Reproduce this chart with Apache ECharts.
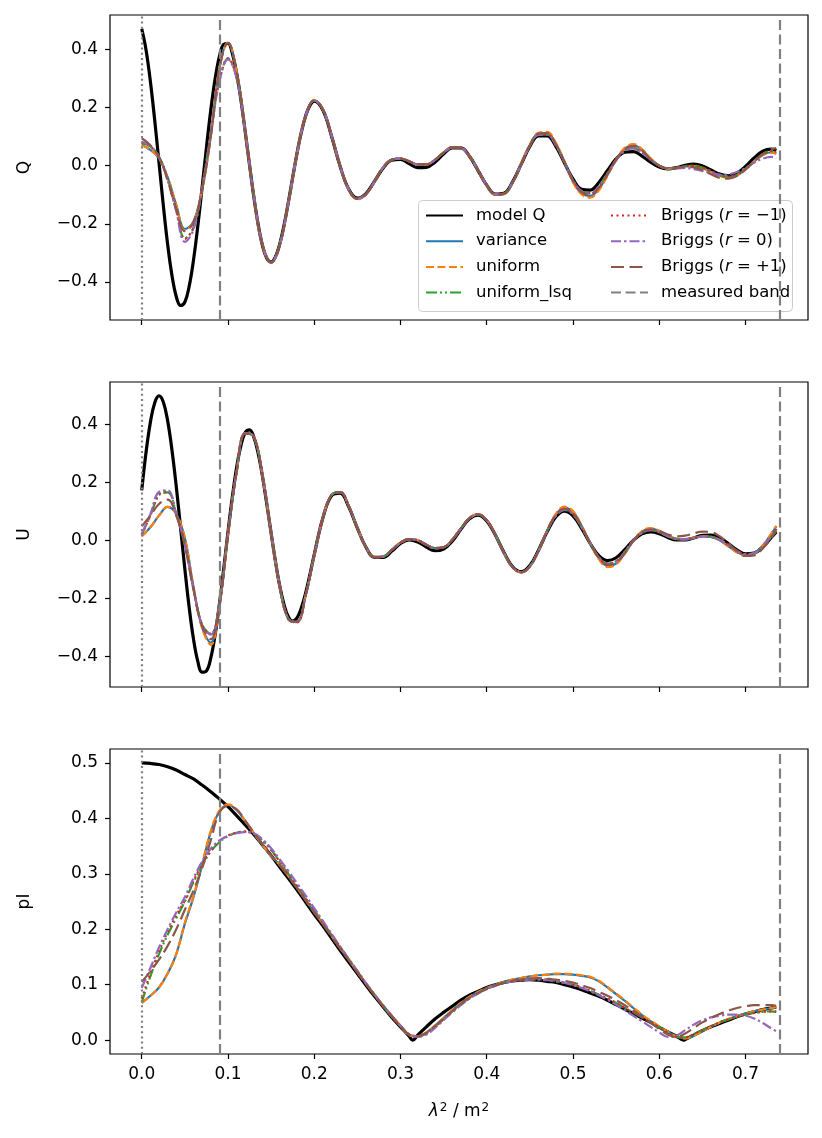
<!DOCTYPE html>
<html>
<head>
<meta charset="utf-8">
<title>Q, U and pI reconstructions</title>
<script src="https://cdn.jsdelivr.net/npm/echarts@6.0.0/dist/echarts.min.js"></script>
<style>
html, body { margin: 0; padding: 0; background: #fff; }
#chart { width: 822px; height: 1138px; }
</style>
</head>
<body>
<div id="chart"></div>
<script>
// lambda^2 sample points (m^2); the last one is the top of the measured band
var lam2 = [0.00,0.01,0.02,0.03,0.04,0.05,0.06,0.07,0.08,0.09,0.10,0.11,0.12,0.13,0.14,0.15,
  0.16,0.17,0.18,0.19,0.20,0.21,0.22,0.23,0.24,0.25,0.26,0.27,0.28,0.29,0.30,
  0.31,0.32,0.33,0.34,0.35,0.36,0.37,0.38,0.39,0.40,0.41,0.42,0.43,0.44,0.45,0.46,0.47,
  0.48,0.49,0.50,0.51,0.52,0.53,0.54,0.55,0.56,0.57,0.58,0.59,0.60,0.61,0.62,0.63,0.64,0.65,0.66,0.67,0.68,0.69,0.70,0.71,0.72,0.73,0.7357];
// model Q and U are read more densely where they swing hardest
var lam2Model = [0.000,0.005,0.010,0.015,0.020,0.025,0.030,0.035,0.040,0.045,0.050,0.055,0.060,0.065,0.070,0.075,
  0.080,0.085,0.090,0.095,0.100,0.105,0.110,0.115,0.120,0.125,0.130,0.135,0.140,0.145,0.150,
  0.155,0.160,0.165,0.170,0.175,0.180,0.185,0.190,0.195,0.200,
  0.21,0.22,0.23,0.24,0.25,0.26,0.27,0.28,0.29,0.30,
  0.31,0.32,0.33,0.34,0.35,0.36,0.37,0.38,0.39,0.40,0.41,0.42,0.43,0.44,0.45,0.46,0.47,
  0.48,0.49,0.50,0.51,0.52,0.53,0.54,0.55,0.56,0.57,0.58,0.59,0.60,0.61,0.62,0.63,0.64,0.65,0.66,0.67,0.68,0.69,0.70,0.71,0.72,0.73,0.7357];
// model pI has two cusps where it touches zero
var lam2PI = [0.00,0.01,0.02,0.03,0.04,0.05,0.06,0.07,0.08,0.09,0.10,0.11,0.12,0.13,0.14,0.15,
  0.16,0.17,0.18,0.19,0.20,0.21,0.22,0.23,0.24,0.25,0.26,0.27,0.28,0.29,0.30,
  0.31,0.3142,0.32,0.33,0.34,0.35,0.36,0.37,0.38,0.39,0.40,0.41,0.42,0.43,0.44,0.45,0.46,0.47,
  0.48,0.49,0.50,0.51,0.52,0.53,0.54,0.55,0.56,0.57,0.58,0.59,0.60,0.61,0.62,0.6283,0.63,0.64,0.65,0.66,0.67,0.68,0.69,0.70,0.71,0.72,0.73,0.7357];

var bandEdges = [0.0856, 0.7357];
var xTicks = [0, 0.1, 0.2, 0.3, 0.4, 0.5, 0.6, 0.7];

var recNames = ['variance', 'uniform', 'uniform_lsq', 'Briggs (r=\u22121)', 'Briggs (r=0)', 'Briggs (r=+1)'];

/* ---- Q ---- */
var modelQ = [0.470,0.398,0.290,0.157,0.010,-0.136,-0.270,-0.377,-0.450,-0.481,-0.469,-0.415,-0.325,-0.208,-0.075,0.062,
  0.190,0.297,0.375,0.417,0.420,0.386,0.318,0.226,0.116,0.002,-0.108,-0.203,-0.275,-0.319,-0.332,
  -0.314,-0.270,-0.205,-0.126,-0.041,0.042,0.114,0.171,0.207,0.222,
  0.191,0.102,-0.002,-0.081,-0.112,-0.096,-0.053,-0.008,0.019,0.021,
  0.007,-0.007,-0.006,0.012,0.040,0.061,0.061,0.032,-0.017,-0.067,-0.098,-0.095,-0.056,0.005,0.066,0.102,0.102,
  0.067,0.010,-0.046,-0.081,-0.084,-0.058,-0.017,0.023,0.046,0.048,0.033,0.012,-0.005,-0.011,-0.007,0.001,0.005,-0.001,-0.015,-0.029,-0.035,-0.026,-0.003,0.026,0.050,0.057,0.052];
var varQ = [0.071,0.054,0.025,-0.040,-0.135,-0.218,-0.192,-0.085,0.100,0.335,0.422,0.322,0.118,-0.106,-0.274,-0.333,
  -0.272,-0.128,0.040,0.170,0.224,0.193,0.104,-0.001,-0.082,-0.114,-0.098,-0.054,-0.006,0.020,0.024,
  0.015,0.004,0.004,0.020,0.045,0.063,0.061,0.033,-0.016,-0.067,-0.099,-0.097,-0.058,0.006,0.070,0.110,0.112,
  0.076,0.014,-0.055,-0.095,-0.104,-0.080,-0.032,0.020,0.058,0.070,0.054,0.024,0.000,-0.010,-0.008,-0.003,-0.002,-0.009,-0.021,-0.034,-0.040,-0.033,-0.012,0.014,0.036,0.046,0.042];
var uniQ = [0.071,0.054,0.025,-0.040,-0.135,-0.222,-0.195,-0.085,0.100,0.335,0.424,0.324,0.118,-0.106,-0.275,-0.334,
  -0.272,-0.128,0.040,0.170,0.225,0.193,0.104,-0.002,-0.083,-0.116,-0.099,-0.054,-0.006,0.020,0.024,
  0.015,0.004,0.004,0.020,0.046,0.064,0.061,0.033,-0.017,-0.068,-0.100,-0.098,-0.058,0.007,0.072,0.113,0.116,
  0.079,0.015,-0.057,-0.099,-0.110,-0.085,-0.035,0.020,0.061,0.074,0.057,0.025,0.000,-0.011,-0.008,-0.003,-0.002,-0.009,-0.022,-0.036,-0.042,-0.034,-0.012,0.015,0.036,0.045,0.040];
var lsqQ = [0.076,0.066,0.030,-0.045,-0.150,-0.250,-0.212,-0.074,0.110,0.290,0.368,0.302,0.114,-0.105,-0.270,-0.333,
  -0.272,-0.128,0.040,0.170,0.224,0.193,0.104,-0.001,-0.082,-0.114,-0.098,-0.054,-0.006,0.020,0.024,
  0.015,0.004,0.004,0.020,0.044,0.062,0.060,0.032,-0.016,-0.067,-0.098,-0.096,-0.057,0.005,0.068,0.106,0.107,
  0.071,0.012,-0.050,-0.088,-0.095,-0.070,-0.026,0.020,0.052,0.060,0.045,0.020,0.000,-0.010,-0.008,-0.002,0.000,-0.007,-0.019,-0.032,-0.038,-0.032,-0.012,0.015,0.038,0.050,0.048];
var brigM1Q = [0.078,0.066,0.030,-0.046,-0.152,-0.252,-0.213,-0.074,0.110,0.290,0.369,0.302,0.114,-0.105,-0.270,-0.333,
  -0.272,-0.128,0.040,0.170,0.224,0.193,0.104,-0.001,-0.082,-0.114,-0.098,-0.054,-0.006,0.020,0.024,
  0.015,0.004,0.004,0.020,0.044,0.062,0.060,0.032,-0.016,-0.067,-0.098,-0.096,-0.057,0.005,0.068,0.106,0.107,
  0.071,0.012,-0.050,-0.088,-0.095,-0.070,-0.026,0.020,0.052,0.060,0.045,0.020,0.000,-0.010,-0.008,-0.002,0.000,-0.007,-0.019,-0.032,-0.038,-0.032,-0.012,0.015,0.038,0.050,0.048];
var brig0Q = [0.082,0.068,0.030,-0.048,-0.157,-0.262,-0.220,-0.078,0.108,0.288,0.365,0.300,0.114,-0.105,-0.270,-0.334,
  -0.272,-0.128,0.040,0.170,0.224,0.193,0.104,-0.001,-0.082,-0.114,-0.098,-0.054,-0.006,0.020,0.024,
  0.015,0.004,0.004,0.020,0.044,0.062,0.060,0.032,-0.016,-0.067,-0.098,-0.096,-0.057,0.005,0.068,0.106,0.107,
  0.070,0.012,-0.050,-0.088,-0.096,-0.072,-0.028,0.018,0.050,0.060,0.046,0.020,0.000,-0.010,-0.010,-0.008,-0.012,-0.018,-0.026,-0.032,-0.030,-0.022,-0.008,0.010,0.024,0.030,0.026];
var brigP1Q = [0.094,0.070,0.030,-0.050,-0.150,-0.225,-0.195,-0.080,0.100,0.330,0.422,0.322,0.118,-0.106,-0.274,-0.333,
  -0.272,-0.128,0.040,0.170,0.224,0.193,0.104,-0.001,-0.082,-0.114,-0.098,-0.054,-0.006,0.020,0.024,
  0.015,0.004,0.004,0.020,0.045,0.063,0.061,0.033,-0.016,-0.067,-0.099,-0.097,-0.058,0.006,0.070,0.110,0.112,
  0.074,0.013,-0.052,-0.092,-0.100,-0.076,-0.030,0.020,0.056,0.068,0.052,0.022,0.000,-0.010,-0.008,-0.004,-0.006,-0.016,-0.030,-0.042,-0.045,-0.036,-0.014,0.015,0.040,0.056,0.060];

/* ---- U ---- */
var modelU = [0.172,0.303,0.406,0.473,0.497,0.476,0.412,0.312,0.186,0.044,-0.099,-0.231,-0.340,-0.417,-0.454,-0.450,
  -0.406,-0.327,-0.221,-0.099,0.028,0.148,0.251,0.326,0.371,0.380,0.355,0.299,0.220,0.125,0.025,
  -0.072,-0.157,-0.222,-0.263,-0.278,-0.267,-0.233,-0.182,-0.118,-0.049,
  0.077,0.153,0.162,0.115,0.042,-0.024,-0.059,-0.059,-0.037,-0.011,
  0.001,-0.006,-0.023,-0.036,-0.030,-0.003,0.038,0.074,0.087,0.067,0.018,-0.042,-0.091,-0.108,-0.087,-0.034,0.029,
  0.080,0.100,0.084,0.041,-0.011,-0.053,-0.070,-0.060,-0.032,0.000,0.022,0.029,0.023,0.010,0.001,0.001,0.008,0.017,0.018,0.009,-0.011,-0.033,-0.047,-0.044,-0.023,0.010,0.029];
var varU = [0.014,0.045,0.085,0.115,0.090,0.008,-0.160,-0.300,-0.352,-0.220,0.020,0.235,0.368,0.357,0.222,0.026,
  -0.158,-0.270,-0.280,-0.190,-0.052,0.077,0.156,0.166,0.118,0.043,-0.024,-0.058,-0.056,-0.033,-0.008,
  0.004,0.000,-0.015,-0.027,-0.024,0.002,0.040,0.076,0.089,0.069,0.019,-0.043,-0.093,-0.110,-0.090,-0.036,0.032,
  0.088,0.112,0.098,0.050,-0.010,-0.062,-0.088,-0.080,-0.046,-0.002,0.030,0.040,0.032,0.016,0.006,0.004,0.009,0.014,0.012,0.000,-0.020,-0.040,-0.052,-0.046,-0.018,0.022,0.048];
var uniU = [0.014,0.045,0.085,0.115,0.090,0.008,-0.162,-0.303,-0.360,-0.222,0.020,0.236,0.369,0.357,0.222,0.026,
  -0.158,-0.271,-0.281,-0.190,-0.052,0.077,0.157,0.166,0.118,0.043,-0.024,-0.058,-0.056,-0.033,-0.008,
  0.004,0.000,-0.015,-0.027,-0.024,0.002,0.040,0.077,0.090,0.069,0.019,-0.044,-0.094,-0.110,-0.090,-0.036,0.034,
  0.091,0.116,0.101,0.051,-0.011,-0.065,-0.092,-0.083,-0.047,-0.002,0.032,0.042,0.033,0.016,0.006,0.004,0.009,0.014,0.012,0.000,-0.021,-0.042,-0.054,-0.047,-0.018,0.023,0.050];
var lsqU = [0.020,0.085,0.155,0.165,0.092,-0.012,-0.165,-0.290,-0.322,-0.222,0.022,0.235,0.368,0.357,0.222,0.026,
  -0.158,-0.272,-0.282,-0.190,-0.052,0.077,0.156,0.166,0.118,0.043,-0.024,-0.058,-0.056,-0.033,-0.008,
  0.004,0.000,-0.015,-0.027,-0.024,0.002,0.040,0.076,0.089,0.069,0.019,-0.043,-0.093,-0.110,-0.090,-0.036,0.032,
  0.084,0.105,0.090,0.045,-0.010,-0.058,-0.080,-0.072,-0.040,0.000,0.026,0.035,0.028,0.014,0.004,0.003,0.008,0.013,0.012,0.002,-0.016,-0.036,-0.048,-0.044,-0.020,0.012,0.030];
var brigM1U = [0.020,0.085,0.158,0.168,0.092,-0.012,-0.165,-0.290,-0.322,-0.222,0.022,0.235,0.368,0.357,0.222,0.026,
  -0.158,-0.272,-0.282,-0.190,-0.052,0.077,0.156,0.166,0.118,0.043,-0.024,-0.058,-0.056,-0.033,-0.008,
  0.004,0.000,-0.015,-0.027,-0.024,0.002,0.040,0.076,0.089,0.069,0.019,-0.043,-0.093,-0.110,-0.090,-0.036,0.032,
  0.084,0.105,0.090,0.045,-0.010,-0.058,-0.080,-0.072,-0.040,0.000,0.026,0.035,0.028,0.014,0.004,0.003,0.008,0.013,0.012,0.002,-0.016,-0.036,-0.048,-0.044,-0.020,0.012,0.032];
var brig0U = [0.022,0.090,0.167,0.172,0.090,-0.015,-0.168,-0.292,-0.325,-0.222,0.022,0.235,0.368,0.357,0.222,0.026,
  -0.158,-0.272,-0.282,-0.190,-0.052,0.077,0.156,0.166,0.118,0.043,-0.024,-0.058,-0.056,-0.033,-0.008,
  0.004,0.000,-0.015,-0.027,-0.024,0.002,0.040,0.076,0.089,0.069,0.019,-0.043,-0.093,-0.110,-0.090,-0.036,0.032,
  0.084,0.105,0.090,0.045,-0.010,-0.058,-0.082,-0.074,-0.041,0.000,0.026,0.035,0.028,0.014,0.004,0.003,0.008,0.013,0.012,0.002,-0.016,-0.036,-0.048,-0.044,-0.020,0.014,0.035];
var brigP1U = [0.048,0.085,0.125,0.140,0.085,-0.020,-0.170,-0.295,-0.340,-0.225,0.020,0.235,0.368,0.357,0.222,0.026,
  -0.158,-0.270,-0.280,-0.190,-0.052,0.077,0.156,0.166,0.118,0.043,-0.024,-0.058,-0.056,-0.033,-0.008,
  0.004,0.000,-0.015,-0.027,-0.024,0.002,0.040,0.076,0.089,0.069,0.019,-0.043,-0.093,-0.110,-0.090,-0.036,0.032,
  0.086,0.108,0.094,0.048,-0.010,-0.060,-0.084,-0.076,-0.044,-0.002,0.028,0.038,0.032,0.020,0.014,0.016,0.024,0.030,0.028,0.014,-0.010,-0.036,-0.054,-0.052,-0.028,0.008,0.040];

/* ---- pI ---- */
var modelPI = [0.500,0.499,0.497,0.493,0.487,0.479,0.471,0.460,0.448,0.435,0.421,0.405,0.388,0.371,0.352,0.333,
  0.312,0.292,0.271,0.249,0.227,0.206,0.184,0.162,0.141,0.120,0.099,0.079,0.060,0.041,0.024,
  0.007,0.000,0.009,0.024,0.038,0.050,0.061,0.072,0.081,0.088,0.095,0.100,0.104,0.107,0.108,0.109,0.108,0.106,
  0.104,0.100,0.096,0.091,0.085,0.079,0.072,0.064,0.056,0.048,0.040,0.032,0.023,0.015,0.007,0.000,
  0.001,0.009,0.017,0.024,0.030,0.036,0.042,0.047,0.051,0.055,0.058,0.060];
var varPI = [0.067,0.080,0.095,0.120,0.155,0.210,0.258,0.315,0.375,0.412,0.424,0.415,0.395,0.373,0.352,0.332,
  0.316,0.296,0.275,0.253,0.231,0.210,0.188,0.166,0.145,0.123,0.102,0.082,0.062,0.044,0.026,
  0.009,0.007,0.014,0.026,0.040,0.054,0.067,0.078,0.087,0.094,0.100,0.105,0.109,0.112,0.115,0.117,0.118,
  0.119,0.119,0.118,0.116,0.113,0.106,0.095,0.083,0.071,0.058,0.045,0.034,0.024,0.015,0.007,0.003,0.008,0.016,0.024,0.032,0.038,0.043,0.048,0.052,0.055,0.058,0.060];
var uniPI = [0.067,0.080,0.095,0.120,0.155,0.212,0.260,0.318,0.377,0.414,0.425,0.416,0.395,0.373,0.352,0.332,
  0.316,0.296,0.275,0.253,0.231,0.210,0.188,0.166,0.145,0.123,0.102,0.082,0.062,0.044,0.026,
  0.009,0.007,0.014,0.026,0.040,0.054,0.067,0.078,0.087,0.094,0.100,0.105,0.109,0.112,0.115,0.117,0.118,
  0.120,0.120,0.119,0.117,0.114,0.107,0.096,0.084,0.072,0.059,0.046,0.035,0.025,0.015,0.007,0.003,0.008,0.016,0.024,0.032,0.038,0.043,0.048,0.052,0.055,0.058,0.060];
var lsqPI = [0.068,0.115,0.155,0.190,0.220,0.250,0.285,0.315,0.340,0.357,0.368,0.374,0.376,0.372,0.360,0.343,
  0.322,0.300,0.278,0.256,0.234,0.212,0.190,0.168,0.146,0.124,0.102,0.081,0.061,0.042,0.025,
  0.010,0.007,0.012,0.024,0.038,0.052,0.065,0.076,0.085,0.093,0.099,0.104,0.107,0.109,0.110,0.110,0.109,
  0.107,0.104,0.100,0.095,0.089,0.082,0.075,0.067,0.058,0.050,0.041,0.032,0.023,0.014,0.006,0.005,0.011,0.018,0.025,0.032,0.037,0.042,0.046,0.049,0.051,0.052,0.051];
var brigM1PI = [0.075,0.120,0.160,0.195,0.225,0.252,0.287,0.317,0.341,0.358,0.369,0.374,0.376,0.372,0.360,0.343,
  0.322,0.300,0.278,0.256,0.234,0.212,0.190,0.168,0.146,0.124,0.102,0.081,0.061,0.042,0.025,
  0.010,0.007,0.012,0.024,0.038,0.052,0.065,0.076,0.085,0.093,0.099,0.104,0.107,0.109,0.110,0.110,0.109,
  0.107,0.104,0.100,0.095,0.089,0.082,0.075,0.067,0.058,0.050,0.041,0.032,0.023,0.014,0.006,0.005,0.011,0.018,0.025,0.032,0.037,0.042,0.046,0.049,0.051,0.052,0.052];
var brig0PI = [0.094,0.130,0.167,0.200,0.230,0.258,0.292,0.322,0.345,0.360,0.368,0.373,0.375,0.373,0.362,0.346,
  0.326,0.305,0.283,0.261,0.238,0.215,0.192,0.169,0.147,0.125,0.103,0.082,0.062,0.043,0.026,
  0.011,0.006,0.010,0.022,0.036,0.050,0.063,0.075,0.084,0.092,0.098,0.103,0.106,0.108,0.109,0.109,0.108,
  0.106,0.103,0.099,0.094,0.088,0.081,0.073,0.064,0.054,0.044,0.034,0.024,0.014,0.006,0.008,0.018,0.028,0.036,0.041,0.044,0.046,0.046,0.044,0.039,0.031,0.021,0.016];
var brigP1PI = [0.105,0.124,0.145,0.170,0.200,0.235,0.270,0.310,0.360,0.410,0.422,0.416,0.396,0.374,0.353,0.333,
  0.315,0.295,0.274,0.252,0.230,0.209,0.187,0.165,0.144,0.122,0.101,0.081,0.061,0.043,0.025,
  0.010,0.007,0.013,0.025,0.039,0.052,0.065,0.076,0.085,0.092,0.098,0.103,0.107,0.109,0.111,0.112,0.111,
  0.109,0.107,0.104,0.099,0.094,0.087,0.080,0.072,0.063,0.053,0.042,0.031,0.020,0.010,0.005,0.012,0.022,0.032,0.040,0.047,0.053,0.058,0.061,0.063,0.063,0.063,0.062];

var FONT = 'DejaVu Sans';
var X_MIN = -0.0368, X_MAX = 0.7725;

// matplotlib-like line styles (colours from tab10)
var recStyles = [
  { color: '#1f77b4', width: 2.2, type: 'solid' },
  { color: '#ff7f0e', width: 2.2, type: [8, 3.5] },
  { color: '#2ca02c', width: 2.2, type: [11, 3, 2, 3, 2, 3] },
  { color: '#d62728', width: 2.2, type: [2, 3.5] },
  { color: '#9467bd', width: 2.2, type: [10, 3, 2.5, 3] },
  { color: '#8c564b', width: 2.2, type: [13, 5.5] }
];
var bandStyle = { color: '#808080', width: 2.2, type: [10, 4.5] };

var panels = [
  { label: 'Q', modelName: 'model Q', modelX: lam2Model, model: modelQ,
    rec: [varQ, uniQ, lsqQ, brigM1Q, brig0Q, brigP1Q],
    min: -0.531, max: 0.518, ticks: [-0.4, -0.2, 0, 0.2, 0.4], top: 15 },
  { label: 'U', modelName: 'model U', modelX: lam2Model, model: modelU,
    rec: [varU, uniU, lsqU, brigM1U, brig0U, brigP1U],
    min: -0.505, max: 0.545, ticks: [-0.4, -0.2, 0, 0.2, 0.4], top: 382 },
  { label: 'pI', modelName: 'model pI', modelX: lam2PI, model: modelPI,
    rec: [varPI, uniPI, lsqPI, brigM1PI, brig0PI, brigP1PI],
    min: -0.025, max: 0.525, ticks: [0, 0.1, 0.2, 0.3, 0.4, 0.5], top: 749 }
];

function pairs(xs, ys) {
  return xs.map(function (x, i) { return [x, ys[i]]; });
}

function tickText(v) {
  return (v < 0 ? '\u2212' : '') + Math.abs(v).toFixed(1);
}

function legendLabel(name) {
  var m = name.match(/^Briggs \(r=(.*)\)$/);
  if (m) {
    return '{n|Briggs (}{i|r}{n| = ' + m[1] + ')}';
  }
  return '{n|' + name + '}';
}

var grids = [], xAxes = [], yAxes = [], series = [];

panels.forEach(function (p, i) {
  grids.push({ left: 110, width: 698, top: p.top, height: 305,
    show: true, borderColor: '#000', borderWidth: 1.2, backgroundColor: 'transparent' });

  xAxes.push({
    gridIndex: i, type: 'value', min: X_MIN, max: X_MAX,
    axisLine: { show: false, onZero: false }, splitLine: { show: false },
    axisTick: { show: true, customValues: xTicks, length: 5, lineStyle: { color: '#000', width: 1.2 } },
    axisLabel: { show: i === 2, customValues: xTicks, formatter: tickText,
      fontSize: 17, color: '#000', fontFamily: FONT, margin: 12 },
    name: i === 2 ? '{it|\u03bb}{sup|2}{n| / m}{sup|2}' : '',
    nameLocation: 'middle', nameGap: 48,
    nameTextStyle: { fontSize: 17, color: '#000', fontFamily: FONT,
      rich: {
        it: { fontSize: 17, fontStyle: 'italic', fontFamily: FONT, color: '#000' },
        n: { fontSize: 17, fontFamily: FONT, color: '#000' },
        sup: { fontSize: 12, fontFamily: FONT, color: '#000', verticalAlign: 'top', padding: [0, 0, 8, 1] }
      } }
  });

  yAxes.push({
    gridIndex: i, type: 'value', min: p.min, max: p.max,
    axisLine: { show: false, onZero: false }, splitLine: { show: false },
    axisTick: { show: true, customValues: p.ticks, length: 5, lineStyle: { color: '#000', width: 1.2 } },
    axisLabel: { customValues: p.ticks, formatter: tickText, fontSize: 17, color: '#000',
      fontFamily: FONT, margin: 12 },
    name: p.label, nameLocation: 'middle', nameGap: 77,
    nameTextStyle: { fontSize: 17, color: '#000', fontFamily: FONT }
  });

  series.push({
    type: 'line', name: p.modelName, xAxisIndex: i, yAxisIndex: i,
    data: pairs(p.modelX, p.model), symbol: 'none', smooth: 0.4,
    lineStyle: { color: '#000', width: 3.2 }, itemStyle: { color: '#000' },
    emphasis: { disabled: true }, z: 2
  });

  p.rec.forEach(function (vals, j) {
    series.push({
      type: 'line', name: recNames[j], xAxisIndex: i, yAxisIndex: i,
      data: pairs(lam2, vals), symbol: 'none', smooth: 0.4,
      lineStyle: recStyles[j], itemStyle: { color: recStyles[j].color },
      emphasis: { disabled: true }, z: 2
    });
  });

  // band edges (dashed) and lambda^2 = 0 (dotted)
  series.push({
    type: 'line', name: 'measured band', xAxisIndex: i, yAxisIndex: i,
    data: [], symbol: 'none', lineStyle: bandStyle, itemStyle: { color: bandStyle.color },
    z: 3,
    markLine: {
      silent: true, symbol: ['none', 'none'], label: { show: false }, animation: false,
      lineStyle: bandStyle,
      data: [
        { xAxis: 0, lineStyle: { color: '#808080', width: 2.2, type: [2, 3.2] } },
        { xAxis: bandEdges[0] },
        { xAxis: bandEdges[1] }
      ]
    }
  });
});

var legendBase = {
  orient: 'vertical', top: 206.5, padding: 0, itemWidth: 37, itemHeight: 16, itemGap: 7.7,
  selectedMode: false, formatter: legendLabel,
  itemStyle: { opacity: 0 },
  textStyle: { fontSize: 16.5, lineHeight: 18, color: '#000', fontFamily: FONT, padding: [0, 0, 0, 8],
    rich: {
      n: { fontSize: 16.5, lineHeight: 18, color: '#000', fontFamily: FONT },
      i: { fontSize: 16.5, lineHeight: 18, color: '#000', fontFamily: FONT, fontStyle: 'italic' }
    } }
};

var option = {
  animation: false,
  textStyle: { fontFamily: FONT },
  grid: grids,
  xAxis: xAxes,
  yAxis: yAxes,
  legend: [
    Object.assign({}, legendBase, { left: 425, data: ['model Q', 'variance', 'uniform', 'uniform_lsq'] }),
    Object.assign({}, legendBase, { left: 610, data: [recNames[3], recNames[4], recNames[5], 'measured band'] })
  ],
  graphic: [{
    type: 'rect', z: 3,
    shape: { x: 418.5, y: 200.5, width: 374, height: 111, r: 4 },
    style: { fill: 'rgba(255,255,255,0.8)', stroke: '#cccccc', lineWidth: 1 }
  }],
  series: series
};

var chart = echarts.init(document.getElementById('chart'));
chart.setOption(option);
</script>
</body>
</html>
